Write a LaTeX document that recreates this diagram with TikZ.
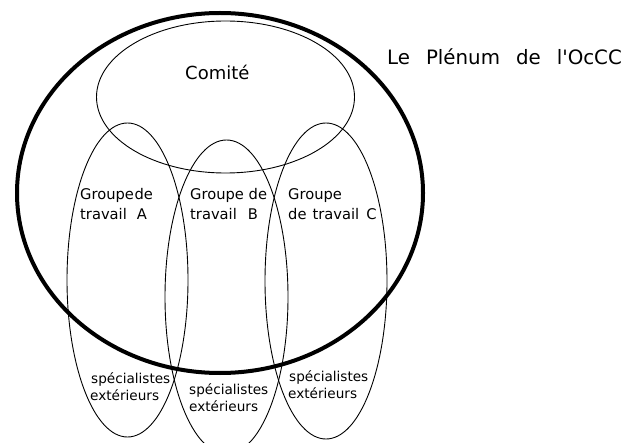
\documentclass[tikz,border=0pt]{standalone}
\usepackage{fontspec}
\newfontfamily\df{DejaVu Sans}
\usetikzlibrary{shapes.geometric}
\tikzset{
  setshape/.style={ellipse, draw, line width=0.9pt, inner sep=0pt, outer sep=0pt},
  bigset/.style={ellipse, draw, line width=4pt, inner sep=0pt, outer sep=0pt},
  lbl/.style={anchor=base west, inner sep=0pt, font=\df\fontsize{14.7}{16}\selectfont},
  small/.style={anchor=base west, inner sep=0pt, font=\df\fontsize{13.6}{15}\selectfont},
  title/.style={anchor=base west, inner sep=0pt, font=\df\fontsize{19.8}{22}\selectfont},
  ctitle/.style={anchor=base west, inner sep=0pt, font=\df\fontsize{18}{20}\selectfont},
}
\begin{document}
\begin{tikzpicture}[x=1pt,y=-1pt]
\useasboundingbox (0,0) rectangle (631,443);
\node[setshape, minimum width=258pt, minimum height=152pt] (comite) at (225.5,97) {};
\node[setshape, minimum width=121pt, minimum height=314pt] (ga) at (127.5,280) {};
\node[setshape, minimum width=123pt, minimum height=314pt] (gb) at (226.5,297) {};
\node[setshape, minimum width=122pt, minimum height=316pt] (gc) at (326,281) {};
\node[bigset, minimum width=406pt, minimum height=360pt] (plenum) at (220,193) {};
% labels
\node[ctitle] (tcomite) at (185,80) {Comité};
\node[title] (tplenum) at (387,64.5) {Le\hskip16pt Plénum\hskip16pt de\hskip16pt l'OcCC};
\node[lbl] (ta1) at (80,200) {Groupe\kern0.5pt de};
\node[lbl] (ta2) at (80,220) {travail\hskip10pt A};
\node[lbl] (tb1) at (190,200) {Groupe de};
\node[lbl] (tb2) at (190,220) {travail\hskip11pt B};
\node[lbl] (tc1) at (288,200) {Groupe};
\node[lbl] (tc2) at (288,220) {de\hskip6pt travail\hskip7pt C};
\node[small] (sa1) at (91,383) {spécialistes};
\node[small] (sa2) at (90,400) {extérieurs};
\node[small] (sb1) at (189,394) {spécialistes};
\node[small] (sb2) at (189,411) {extérieurs};
\node[small] (sc1) at (289,381) {spécialistes};
\node[small] (sc2) at (288,398) {extérieurs};
\end{tikzpicture}
\end{document}
